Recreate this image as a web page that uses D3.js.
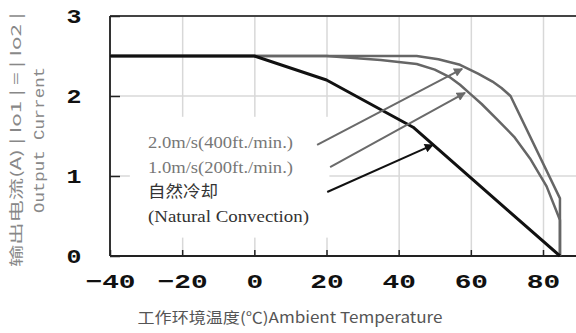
<!DOCTYPE html>
<html>
<head>
<meta charset="utf-8">
<script src="https://cdn.jsdelivr.net/npm/d3@7"></script>
<style>
  body { margin: 0; background: #fff; }
  svg { display: block; }
</style>
</head>
<body>
<svg id="chart" width="576" height="333"></svg>
<script>
// tick values
const xTicks = [-40, -20, 0, 20, 40, 60, 80];
const yTicks = [0, 1, 2, 3];

// derating curves [temperature C, current A]
const natural = [[-40, 2.5], [0, 2.5], [20, 2.2], [44, 1.61], [84.7, 0]];
const air1 = [[-40, 2.5], [20, 2.5], [35, 2.45], [45, 2.4], [50, 2.33], [54, 2.24], [57, 2.14],
  [60, 2.02], [63, 1.9], [67, 1.72], [72, 1.49], [76.4, 1.22], [81, 0.87], [84.7, 0.45], [84.7, 0]];
const air2 = [[-40, 2.5], [45, 2.5], [51, 2.46], [57, 2.39], [62, 2.28], [66, 2.18], [68.5, 2.1],
  [71, 2.0], [84.7, 0.72], [84.7, 0]];

// annotation arrows: tail -> tip
const arrows = [
  { from: [17.4, 1.39], to: [57.6, 2.34], color: "#6a6a6a" },
  { from: [21, 1.11], to: [58.4, 2.04], color: "#6a6a6a" },
  { from: [20.2, 0.8], to: [49.5, 1.39], color: "#111" }
];
const labels = ["2.0m/s(400ft./min.)", "1.0m/s(200ft./min.)", "自然冷却", "(Natural Convection)"];

const svg = d3.select("#chart");
const x = d3.scaleLinear().domain([-40, 80]).range([110, 543]);
const y = d3.scaleLinear().domain([0, 3]).range([256, 16]);
const xEnd = x(90);

// grid
svg.append("g")
  .attr("transform", "translate(0," + y(0) + ")")
  .call(d3.axisBottom(x).tickValues(xTicks.slice(1)).tickSize(-(y(0) - y(3))).tickFormat(""))
  .call(g => g.select(".domain").remove())
  .selectAll("line").attr("stroke", "#d8d8d8").attr("stroke-width", 1.5);
svg.append("g")
  .selectAll("line").data([1, 2]).enter().append("line")
  .attr("x1", x(-40)).attr("x2", xEnd)
  .attr("y1", d => y(d)).attr("y2", d => y(d))
  .attr("stroke", "#d8d8d8").attr("stroke-width", 1.5);

// white box behind the legend text
svg.append("rect")
  .attr("x", x(-34.5)).attr("y", y(1.74))
  .attr("width", x(20.8) - x(-34.5)).attr("height", y(0.23) - y(1.74))
  .attr("fill", "#fff");

// frame
svg.append("line").attr("x1", x(-40)).attr("x2", xEnd).attr("y1", y(3)).attr("y2", y(3))
  .attr("stroke", "#444").attr("stroke-width", 2);
svg.append("line").attr("x1", x(-40)).attr("x2", xEnd).attr("y1", y(0)).attr("y2", y(0))
  .attr("stroke", "#222").attr("stroke-width", 2);
svg.append("line").attr("x1", x(-40)).attr("x2", x(-40)).attr("y1", y(3)).attr("y2", y(0))
  .attr("stroke", "#333").attr("stroke-width", 2);

// x axis ticks + labels
const xAxis = svg.append("g")
  .attr("transform", "translate(0," + y(0) + ")")
  .call(d3.axisBottom(x).tickValues(xTicks).tickSize(-6).tickPadding(18));
xAxis.select(".domain").remove();
xAxis.selectAll("line").attr("stroke", "#222").attr("stroke-width", 1.5);
xAxis.selectAll("text")
  .attr("font-family", "Liberation Mono, monospace").attr("font-weight", "bold")
  .attr("font-size", 20).attr("fill", "#111")
  .attr("textLength", d => String(d).length * 16.7)
  .attr("lengthAdjust", "spacingAndGlyphs");

// y axis ticks + labels
const yAxis = svg.append("g")
  .attr("transform", "translate(" + x(-40) + ",0)")
  .call(d3.axisLeft(y).tickValues(yTicks).tickFormat(d3.format("d")).tickSize(-10).tickPadding(36));
yAxis.select(".domain").remove();
yAxis.selectAll("line").attr("stroke", "#222").attr("stroke-width", 1.5);
yAxis.selectAll("text")
  .attr("text-anchor", "middle")
  .attr("font-family", "Liberation Mono, monospace").attr("font-weight", "bold")
  .attr("font-size", 20).attr("fill", "#111")
  .attr("textLength", 15).attr("lengthAdjust", "spacingAndGlyphs");

// curves
const line = d3.line().x(d => x(d[0])).y(d => y(d[1]));
svg.append("path").datum(air2).attr("d", line)
  .attr("fill", "none").attr("stroke", "#666").attr("stroke-width", 2.5).attr("stroke-linejoin", "round");
svg.append("path").datum(air1).attr("d", line)
  .attr("fill", "none").attr("stroke", "#666").attr("stroke-width", 2.5).attr("stroke-linejoin", "round");
svg.append("path").datum(natural).attr("d", line)
  .attr("fill", "none").attr("stroke", "#111").attr("stroke-width", 3).attr("stroke-linejoin", "round");

// arrows
const defs = svg.append("defs");
arrows.forEach((a, i) => {
  defs.append("marker")
    .attr("id", "ah" + i).attr("viewBox", "0 0 10 10")
    .attr("refX", 9).attr("refY", 5)
    .attr("markerWidth", 5).attr("markerHeight", 4.5)
    .attr("markerUnits", "strokeWidth").attr("orient", "auto")
    .append("path").attr("d", "M0,0L10,5L0,10z").attr("fill", a.color);
  svg.append("line")
    .attr("x1", x(a.from[0])).attr("y1", y(a.from[1]))
    .attr("x2", x(a.to[0])).attr("y2", y(a.to[1]))
    .attr("stroke", a.color).attr("stroke-width", 2)
    .attr("marker-end", "url(#ah" + i + ")");
});

// legend text
const legendY = [148, 173, 197, 222];
const legendLen = [145, 145, 70, 161];
svg.append("g").selectAll("text").data(labels).enter().append("text")
  .attr("x", 148).attr("y", (d, i) => legendY[i])
  .attr("font-family", (d, i) => i === 2 ? "Noto Sans CJK SC" : "Liberation Serif, serif")
  .attr("font-size", 16)
  .attr("fill", (d, i) => i < 2 ? "#777" : "#333")
  .attr("textLength", (d, i) => legendLen[i])
  .attr("lengthAdjust", "spacingAndGlyphs")
  .text(d => d);

// axis titles
svg.append("text")
  .attr("x", 290).attr("y", 323).attr("text-anchor", "middle")
  .attr("font-family", "Noto Sans CJK SC").attr("font-size", 15).attr("fill", "#555")
  .attr("textLength", 305).attr("lengthAdjust", "spacingAndGlyphs")
  .text("工作环境温度(℃)Ambient Temperature");
svg.append("text")
  .attr("transform", "translate(21,140) rotate(-90)").attr("text-anchor", "middle")
  .attr("font-family", "Noto Sans CJK SC").attr("font-size", 14).attr("fill", "#888")
  .attr("textLength", 254).attr("lengthAdjust", "spacingAndGlyphs")
  .text("输出电流(A) | Io1 | = | Io2 |");
svg.append("text")
  .attr("transform", "translate(44,140) rotate(-90)").attr("text-anchor", "middle")
  .attr("font-family", "Liberation Mono, monospace").attr("font-size", 14).attr("fill", "#888")
  .attr("textLength", 146).attr("lengthAdjust", "spacingAndGlyphs")
  .text("Output Current");
</script>
</body>
</html>
